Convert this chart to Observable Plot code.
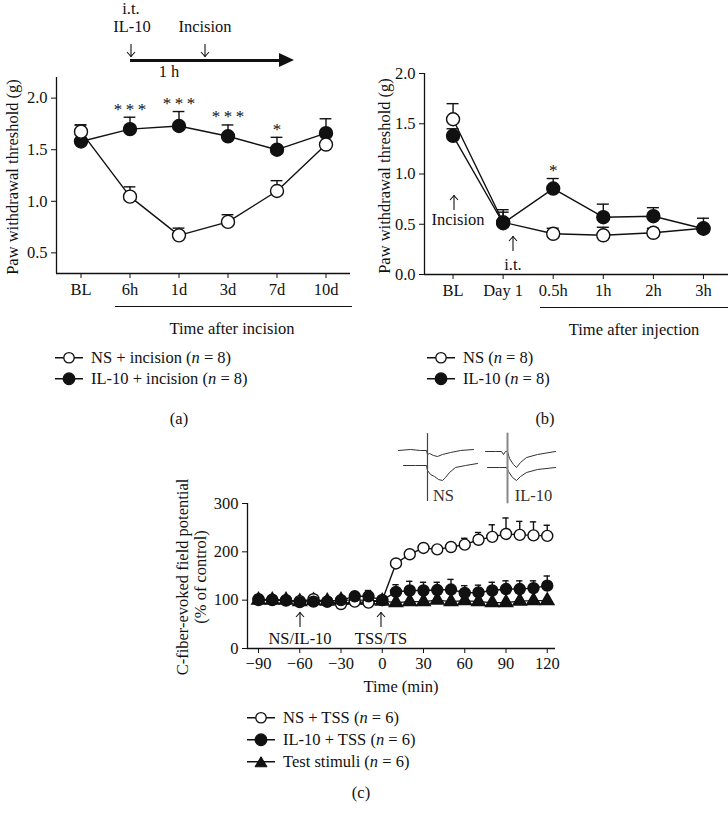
<!DOCTYPE html>
<html>
<head>
<meta charset="utf-8">
<script src="https://cdn.jsdelivr.net/npm/d3@7"></script>
<script src="https://cdn.jsdelivr.net/npm/@observablehq/plot@0.6"></script>
<style>
  html, body { margin: 0; padding: 0; background: #fff; }
  #fig { position: relative; width: 728px; height: 816px; overflow: hidden; font-family: "Liberation Serif", serif; color: #111; }
  .abs { position: absolute; }
  .t { position: absolute; white-space: nowrap; transform: translate(-50%, -50%); font-size: 16.5px; line-height: 1; }
  .tl { position: absolute; white-space: nowrap; transform: translate(0, -50%); font-size: 16.5px; line-height: 1; display: flex; align-items: center; }
  .hline { position: absolute; height: 1.3px; background: #111; }
</style>
</head>
<body>
<div id="fig"></div>
<script>
// ---------- Panel (a) data ----------
const aIdx = [0, 1, 2, 3, 4, 5];
const aLabels = ["BL", "6h", "1d", "3d", "7d", "10d"];
const aNS = [1.675, 1.045, 0.67, 0.80, 1.10, 1.55];
const aNSHi = [1.74, 1.14, 0.74, 0.87, 1.20, 1.55];
const aIL = [1.58, 1.70, 1.73, 1.63, 1.50, 1.66];
const aILHi = [1.74, 1.815, 1.87, 1.74, 1.62, 1.80];
const aStars = ["", "***", "***", "***", "*", ""];

// ---------- Panel (b) data ----------
const bIdx = [0, 1, 2, 3, 4, 5];
const bLabels = ["BL", "Day 1", "0.5h", "1h", "2h", "3h"];
const bNS = [1.545, 0.52, 0.405, 0.39, 0.415, 0.46];
const bNSHi = [1.70, 0.645, 0.46, 0.47, 0.46, 0.46];
const bIL = [1.38, 0.51, 0.855, 0.57, 0.58, 0.455];
const bILHi = [1.45, 0.62, 0.955, 0.70, 0.665, 0.56];
const bStars = ["", "", "*", "", "", ""];

// ---------- Panel (c) data ----------
const cT = [-90, -80, -70, -60, -50, -40, -30, -20, -10, 0, 10, 20, 30, 40, 50, 60, 70, 80, 90, 100, 110, 120];
const cTicks = [-90, -60, -30, 0, 30, 60, 90, 120];
const cNS = [100, 100, 99, 98, 102, 97, 92, 97, 95, 100, 176, 195, 208, 205, 210, 215, 225, 231, 237, 235, 234, 233];
const cNSHi = [100, 100, 99, 98, 102, 97, 92, 97, 95, 100, 183, 200, 217, 212, 219, 228, 240, 256, 270, 263, 262, 255];
const cIL = [102, 101, 100, 96, 97, 97, 100, 108, 108, 100, 117, 120, 120, 121, 122, 115, 116, 120, 123, 123, 125, 130];
const cILHi = [102, 101, 100, 96, 97, 97, 103, 117, 120, 100, 132, 139, 137, 137, 143, 130, 131, 137, 140, 140, 140, 150];
const cTS = [100, 100, 100, 97, 99, 98, 100, 100, 100, 98, 95, 97, 97, 100, 97, 99, 97, 95, 95, 98, 99, 99];

// ---------- Inset traces (approximate waveform shapes) ----------
const nsUpperX = [3, 15, 25, 31, 32, 34, 38, 42, 47, 55, 65, 78];
const nsUpperY = [20, 19, 20, 20, 24, 23, 25, 26, 24, 22, 20, 19];
const nsLowerX = [8, 20, 31, 32, 35, 39, 43, 47, 50, 54, 60, 70, 82];
const nsLowerY = [35, 35, 35, 40, 44, 46, 49, 50, 47, 42, 37, 35, 33];
const nsArtX = [32, 32];
const nsArtY = [3, 70];
const ilUpperX = [90, 100, 106, 108, 110, 112, 114, 118, 121, 125, 131, 142, 160];
const ilUpperY = [21, 21, 21, 24, 21, 21, 28, 34, 37, 32, 27, 24, 21];
const ilLowerX = [92, 104, 111, 113, 117, 121, 125, 131, 142, 160];
const ilLowerY = [37, 37, 37, 41, 47, 50, 46, 42, 39, 37];
const ilArtX = [112, 112];
const ilArtY = [3, 72];

const INK = "#111";
const FONT = "'Liberation Serif', serif";
const FS = 16.5;
const fig = document.getElementById("fig");

function place(el, left, top) {
  el.classList.add("abs");
  el.style.left = left + "px";
  el.style.top = top + "px";
  fig.appendChild(el);
}
function txt(html, x, y, size, cls) {
  const d = document.createElement("div");
  d.className = cls || "t";
  d.innerHTML = html;
  d.style.left = x + "px";
  d.style.top = y + "px";
  if (size) d.style.fontSize = size + "px";
  fig.appendChild(d);
  return d;
}
function hline(x1, x2, y, w) {
  const d = document.createElement("div");
  d.className = "hline";
  d.style.left = x1 + "px";
  d.style.width = (x2 - x1) + "px";
  d.style.top = y + "px";
  if (w) d.style.height = w + "px";
  fig.appendChild(d);
}
// thin arrow (up or down), drawn as a tiny svg
function arrow(x, yTop, yBot, up) {
  const h = yBot - yTop;
  const d = document.createElement("div");
  d.style.position = "absolute";
  d.style.left = (x - 5) + "px";
  d.style.top = yTop + "px";
  const tip = up ? 0.5 : h - 0.5;
  const s = up ? 4.5 : -4.5;
  d.innerHTML = `<svg width="10" height="${h}" style="display:block;overflow:visible">
    <line x1="5" x2="5" y1="0" y2="${h}" stroke="${INK}" stroke-width="1.1"/>
    <polyline points="1,${tip + s} 5,${tip} 9,${tip + s}" fill="none" stroke="${INK}" stroke-width="1.1"/></svg>`;
  fig.appendChild(d);
}

function rowsOf(idx, v, hi, stars) {
  return idx.map((x, k) => ({x, v: v[k], hi: hi[k], star: stars ? stars[k] : ""}));
}

function series(rows, opts) {
  const {filled, r, cap, symbol} = opts;
  return [
    Plot.ruleX(rows.filter(d => d.hi > d.v), {x: "x", y1: "v", y2: "hi", stroke: INK, strokeWidth: 1.4}),
    Plot.ruleY(rows.filter(d => d.hi > d.v), {x1: d => d.x - cap, x2: d => d.x + cap, y: "hi", stroke: INK, strokeWidth: 1.4}),
    Plot.line(rows, {x: "x", y: "v", stroke: INK, strokeWidth: 1.4}),
    Plot.dot(rows, {x: "x", y: "v", r, symbol: symbol || "circle", fill: filled ? INK : "white", stroke: INK, strokeWidth: 1.4})
  ];
}
const starText = s => s.split("").join("\u2009");

const baseStyle = {fontFamily: FONT, fontSize: FS + "px", color: INK, background: "transparent", overflow: "visible"};

// ---------- Panel (a) ----------
const aNSRows = rowsOf(aIdx, aNS, aNSHi);
const aILRows = rowsOf(aIdx, aIL, aILHi, aStars);
const plotA = Plot.plot({
  width: 360, height: 320,
  marginLeft: 56, marginRight: 10, marginTop: 77, marginBottom: 47,
  x: {domain: [-0.5, 5.5]},
  y: {domain: [0.3, 2.2]},
  style: baseStyle,
  marks: [
    Plot.axisX(aIdx, {tickFormat: i => aLabels[i], tickSize: 5, tickPadding: 5, label: null, stroke: INK}),
    Plot.axisY([0.5, 1.0, 1.5, 2.0], {tickFormat: d3.format(".1f"), tickSize: 5, tickPadding: 4, label: null, stroke: INK}),
    Plot.ruleX([-0.5], {stroke: INK, strokeWidth: 1.3}),
    Plot.ruleY([0.3], {stroke: INK, strokeWidth: 1.3}),
    ...series(aILRows, {filled: true, r: 6.5, cap: 0.12}),
    ...series(aNSRows, {filled: false, r: 6.5, cap: 0.12}),
    Plot.text(aILRows.filter(d => d.star), {x: "x", y: "hi", text: d => starText(d.star), dy: -8, fontSize: 17, fill: INK})
  ]
});
place(plotA, 0, 0);

// ---------- Panel (b) ----------
const bNSRows = rowsOf(bIdx, bNS, bNSHi);
const bILRows = rowsOf(bIdx, bIL, bILHi, bStars);
const plotB = Plot.plot({
  width: 368, height: 320,
  marginLeft: 64, marginRight: 0, marginTop: 73, marginBottom: 46,
  x: {domain: [-0.57, 5.5]},
  y: {domain: [0, 2]},
  style: baseStyle,
  marks: [
    Plot.axisX(bIdx, {tickFormat: i => bLabels[i], tickSize: 5, tickPadding: 5, label: null, stroke: INK}),
    Plot.axisY([0, 0.5, 1.0, 1.5, 2.0], {tickFormat: d3.format(".1f"), tickSize: 5, tickPadding: 4, label: null, stroke: INK}),
    Plot.ruleX([-0.57], {stroke: INK, strokeWidth: 1.3}),
    Plot.ruleY([0], {stroke: INK, strokeWidth: 1.3}),
    ...series(bNSRows, {filled: false, r: 6.5, cap: 0.12}),
    ...series(bILRows, {filled: true, r: 6.5, cap: 0.12}),
    Plot.text(bILRows.filter(d => d.star), {x: "x", y: "hi", text: d => starText(d.star), dy: -8, fontSize: 17, fill: INK})
  ]
});
place(plotB, 360, 0);

// ---------- Panel (c) ----------
const cNSRows = rowsOf(cT, cNS, cNSHi);
const cILRows = rowsOf(cT, cIL, cILHi);
const cTSRows = rowsOf(cT, cTS, cTS);
const minus = d => d < 0 ? "\u2212" + (-d) : String(d);
const plotC = Plot.plot({
  width: 420, height: 270,
  marginLeft: 97, marginRight: 15, marginTop: 83, marginBottom: 42,
  x: {domain: [-98, 126]},
  y: {domain: [0, 300]},
  style: baseStyle,
  marks: [
    Plot.axisX(cTicks, {tickFormat: minus, tickSize: 5, tickPadding: 4, label: null, stroke: INK}),
    Plot.axisY([0, 100, 200, 300], {tickSize: 5, tickPadding: 4, label: null, stroke: INK}),
    Plot.ruleX([-98], {stroke: INK, strokeWidth: 1.3}),
    Plot.ruleY([0], {stroke: INK, strokeWidth: 1.3}),
    ...series(cTSRows, {filled: true, r: 5, cap: 2, symbol: "triangle"}),
    ...series(cNSRows, {filled: false, r: 5.5, cap: 2.3}),
    ...series(cILRows, {filled: true, r: 5.5, cap: 2.3})
  ]
});
place(plotC, 150, 420);

// ---------- Inset traces ----------
const tr = (xs, ys) => xs.map((x, k) => ({x, y: ys[k]}));
const traceLabels = [{x: 48, y: 65, t: "NS"}, {x: 138, y: 65, t: "IL-10"}];
const plotT = Plot.plot({
  width: 170, height: 75,
  margin: 0,
  x: {domain: [0, 170], axis: null},
  y: {domain: [0, 75], reverse: true, axis: null},
  style: {...baseStyle, color: "#333"},
  marks: [
    Plot.line(tr(nsUpperX, nsUpperY), {x: "x", y: "y", stroke: "#333", strokeWidth: 1}),
    Plot.line(tr(nsLowerX, nsLowerY), {x: "x", y: "y", stroke: "#333", strokeWidth: 1}),
    Plot.line(tr(nsArtX, nsArtY), {x: "x", y: "y", stroke: "#444", strokeWidth: 1.2}),
    Plot.line(tr(ilUpperX, ilUpperY), {x: "x", y: "y", stroke: "#333", strokeWidth: 1}),
    Plot.line(tr(ilLowerX, ilLowerY), {x: "x", y: "y", stroke: "#333", strokeWidth: 1}),
    Plot.line(tr(ilArtX, ilArtY), {x: "x", y: "y", stroke: "#888", strokeWidth: 2}),
    Plot.text(traceLabels, {x: "x", y: "y", text: "t", fontSize: FS, fill: "#333"})
  ]
});
place(plotT, 395, 430);

// ---------- Annotations: panel (a) header ----------
txt("i.t.", 131, 9);
txt("IL-10", 132, 27);
txt("Incision", 205, 27);
arrow(131, 44, 57, false);
arrow(205, 44, 57, false);
hline(130, 282, 59, 2.6);
(function () {
  const h = document.createElement("div");
  h.style.position = "absolute";
  h.style.left = "279px";
  h.style.top = "53px";
  h.style.width = "0"; h.style.height = "0";
  h.style.borderTop = "7.5px solid transparent";
  h.style.borderBottom = "7.5px solid transparent";
  h.style.borderLeft = "15px solid " + INK;
  fig.appendChild(h);
})();
txt("1 h", 169, 72);

// axis titles
const ya = txt("Paw withdrawal threshold (g)", 13, 177);
ya.style.transform = "translate(-50%, -50%) rotate(-90deg)";
const yb = txt("Paw withdrawal threshold (g)", 385, 176);
yb.style.transform = "translate(-50%, -50%) rotate(-90deg)";
const yc1 = txt("C-fiber-evoked field potential", 183, 577);
yc1.style.transform = "translate(-50%, -50%) rotate(-90deg)";
const yc2 = txt("(% of control)", 201, 577);
yc2.style.transform = "translate(-50%, -50%) rotate(-90deg)";

// time-after underlines
hline(115, 352, 306);
txt("Time after incision", 232, 329);
hline(540, 728, 307);
txt("Time after injection", 634, 330);

// panel (b) annotations
arrow(454, 195, 210, true);
txt("Incision", 458, 220);
arrow(513, 236, 251, true);
txt("i.t.", 513, 265);

// panel (c) annotations
arrow(300, 612, 627, true);
txt("NS/IL-10", 300, 639);
arrow(381, 612, 627, true);
txt("TSS/TS", 381, 639);
txt("Time (min)", 401, 687);

// ---------- Legends ----------
function legendMarker(kind) {
  const filled = kind !== "open";
  let shape;
  if (kind === "tri") shape = `<path d="M14,2 L20,12 L8,12 Z" fill="${INK}" stroke="${INK}" stroke-width="1"/>`;
  else shape = `<circle cx="14" cy="7" r="${filled ? 5.8 : 5.2}" fill="${filled ? INK : "white"}" stroke="${INK}" stroke-width="1.3"/>`;
  return `<svg width="28" height="14" style="margin-right:8px;overflow:visible"><line x1="0" x2="28" y1="7" y2="7" stroke="${INK}" stroke-width="1.5"/>${shape}</svg>`;
}
function legendRow(kind, label, x, y) {
  txt(legendMarker(kind) + `<span>${label}</span>`, x, y, FS, "tl");
}
legendRow("open", "NS + incision (<i>n</i> = 8)", 55, 358);
legendRow("filled", "IL-10 + incision (<i>n</i> = 8)", 55, 379);
legendRow("open", "NS (<i>n</i> = 8)", 427, 358);
legendRow("filled", "IL-10 (<i>n</i> = 8)", 427, 379);
legendRow("open", "NS + TSS (<i>n</i> = 6)", 247, 718);
legendRow("filled", "IL-10 + TSS (<i>n</i> = 6)", 247, 740);
legendRow("tri", "Test stimuli (<i>n</i> = 6)", 247, 762);

txt("(a)", 179, 419);
txt("(b)", 545, 419);
txt("(c)", 361, 793);
</script>
</body>
</html>
